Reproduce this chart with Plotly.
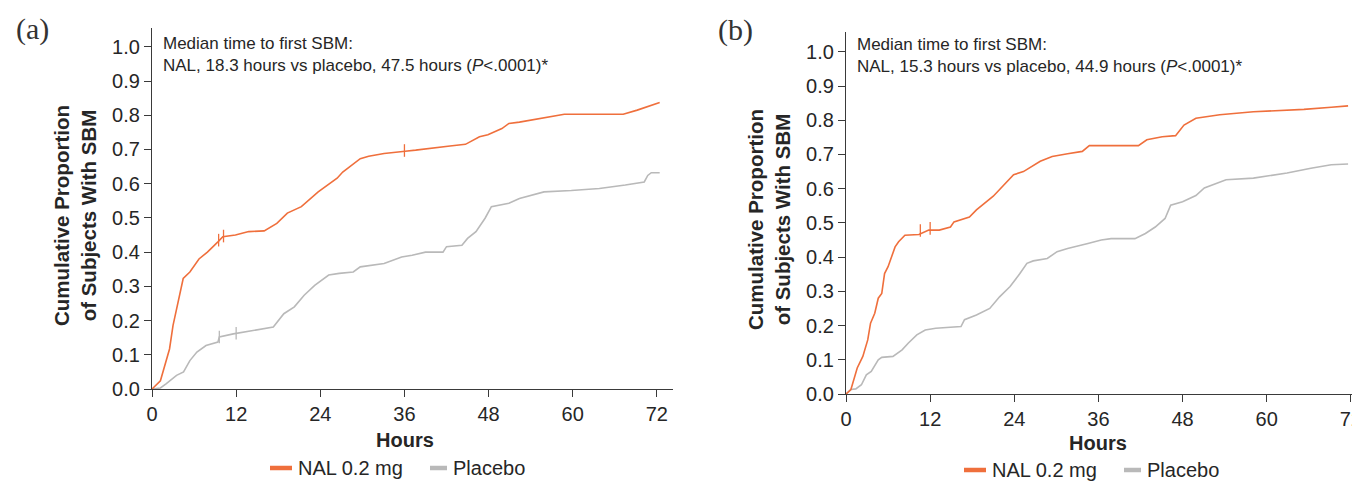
import plotly.graph_objects as go

# ---------------- data ----------------
hours_ticks = [0, 12, 24, 36, 48, 60, 72]
prop_ticks = [0.0, 0.1, 0.2, 0.3, 0.4, 0.5, 0.6, 0.7, 0.8, 0.9, 1.0]

# Panel (a)
a_nal_t = [0, 1.2, 2.5, 3.0, 4.45, 5.4, 6.7, 7.9, 9.4, 10.1, 11.9, 13.8, 16.0, 17.8, 19.3,
           21.3, 23.7, 26.4, 27.2, 29.7, 30.9, 33.1, 36.1, 37.6, 42.5, 44.7, 46.7, 47.9,
           49.9, 50.9, 52.4, 56.4, 58.8, 67.2, 69.2, 72.4]
a_nal_p = [0, 0.024, 0.117, 0.186, 0.323, 0.342, 0.38, 0.40, 0.43, 0.445, 0.45, 0.46, 0.462,
           0.484, 0.514, 0.533, 0.576, 0.616, 0.634, 0.673, 0.68, 0.688, 0.695, 0.698, 0.71,
           0.715, 0.737, 0.743, 0.761, 0.776, 0.78, 0.795, 0.803, 0.803, 0.815, 0.837]
a_pbo_t = [0, 1.2, 2.0, 3.5, 4.5, 5.4, 6.4, 7.7, 9.4, 9.6, 11.6, 14.3, 17.3, 18.8, 20.3,
           21.7, 23.2, 25.2, 26.7, 28.7, 29.7, 33.1, 35.6, 37.1, 39.0, 41.5, 42.0, 44.2,
           45.0, 46.2, 47.5, 48.4, 50.9, 52.4, 54.4, 55.9, 59.8, 63.8, 67.5, 70.2, 70.7,
           71.2, 72.4]
a_pbo_p = [0, 0.003, 0.015, 0.04, 0.05, 0.083, 0.108, 0.127, 0.137, 0.152, 0.161, 0.171,
           0.181, 0.22, 0.24, 0.274, 0.303, 0.333, 0.338, 0.342, 0.357, 0.367, 0.386, 0.391,
           0.40, 0.40, 0.416, 0.42, 0.44, 0.46, 0.499, 0.533, 0.543, 0.557, 0.567, 0.576,
           0.58, 0.586, 0.596, 0.605, 0.624, 0.632, 0.632]
a_nal_cens_t = [9.5, 10.2, 36.0]
a_nal_cens_p = [0.435, 0.447, 0.697]
a_pbo_cens_t = [9.6, 12.0]
a_pbo_cens_p = [0.152, 0.163]

# Panel (b)
b_nal_t = [0, 0.7, 1.6, 2.4, 3.1, 3.5, 4.1, 4.6, 5.1, 5.5, 6.0, 6.5, 7.0, 7.5, 8.4, 10.4,
           11.8, 13.3, 14.9, 15.4, 17.6, 18.6, 21.0, 23.9, 25.3, 27.7, 29.4, 31.6, 33.7,
           34.7, 41.7, 42.9, 45.1, 47.0, 48.2, 49.9, 53.3, 58.1, 65.3, 69.2, 71.1, 71.6]
b_nal_p = [0, 0.013, 0.076, 0.11, 0.158, 0.207, 0.236, 0.28, 0.294, 0.352, 0.372, 0.40,
           0.43, 0.445, 0.464, 0.466, 0.479, 0.479, 0.488, 0.503, 0.517, 0.538, 0.578,
           0.641, 0.65, 0.68, 0.694, 0.702, 0.709, 0.726, 0.726, 0.743, 0.752, 0.755,
           0.786, 0.806, 0.816, 0.825, 0.832, 0.838, 0.842, 0.842]
b_pbo_t = [0, 0.7, 1.4, 2.2, 2.9, 3.6, 4.6, 5.1, 6.7, 8.0, 8.9, 10.1, 11.3, 12.8, 16.4,
           16.9, 18.6, 20.5, 21.9, 23.4, 24.8, 25.8, 26.7, 28.7, 30.1, 31.6, 34.5, 36.4,
           37.8, 41.2, 42.7, 44.1, 45.5, 46.3, 48.0, 49.9, 51.1, 54.2, 58.1, 62.9, 66.3,
           69.2, 71.6]
b_pbo_p = [0, 0.013, 0.015, 0.027, 0.056, 0.066, 0.10, 0.107, 0.11, 0.129, 0.149, 0.173,
           0.187, 0.192, 0.197, 0.217, 0.231, 0.25, 0.284, 0.314, 0.352, 0.382, 0.389,
           0.396, 0.416, 0.425, 0.44, 0.45, 0.454, 0.454, 0.469, 0.488, 0.513, 0.552,
           0.562, 0.58, 0.602, 0.626, 0.631, 0.646, 0.66, 0.67, 0.672]
b_nal_cens_t = [10.6, 12.0]
b_nal_cens_p = [0.478, 0.484]

series_names = ["NAL 0.2 mg", "Placebo"]
panel_labels = ["(a)", "(b)"]
median_texts = [
    "Median time to first SBM:<br>NAL, 18.3 hours vs placebo, 47.5 hours (<i>P</i>&lt;.0001)*",
    "Median time to first SBM:<br>NAL, 15.3 hours vs placebo, 44.9 hours (<i>P</i>&lt;.0001)*",
]
y_title = "<b>Cumulative Proportion<br>of Subjects With SBM</b>"
x_title = "<b>Hours</b>"

# ---------------- style ----------------
W, H = 1360, 482
OFF = 8  # default page (body) margin in the browser
ORANGE = "#ef6f3c"
GREY = "#b9b9b9"
AXC = "#3a3a3a"
TXT = "#262626"
FONT = "Liberation Sans, Arial, sans-serif"


def px(x):
    """screen x pixel -> paper fraction"""
    return (x - OFF) / W


def py(y):
    """screen y pixel -> paper fraction"""
    return 1 - (y - OFF) / H


fig = go.Figure()

panels = [
    dict(xa="x", ya="y", nal=(a_nal_t, a_nal_p), pbo=(a_pbo_t, a_pbo_p),
         ncens=(a_nal_cens_t, a_nal_cens_p), pcens=(a_pbo_cens_t, a_pbo_cens_p)),
    dict(xa="x2", ya="y2", nal=(b_nal_t, b_nal_p), pbo=(b_pbo_t, b_pbo_p),
         ncens=(b_nal_cens_t, b_nal_cens_p), pcens=([], [])),
]

for p in panels:
    fig.add_trace(go.Scatter(x=p["pbo"][0], y=p["pbo"][1], mode="lines",
                             line=dict(color=GREY, width=1.6), xaxis=p["xa"], yaxis=p["ya"],
                             showlegend=False, name=series_names[1], cliponaxis=False))
    fig.add_trace(go.Scatter(x=p["nal"][0], y=p["nal"][1], mode="lines",
                             line=dict(color=ORANGE, width=1.6), xaxis=p["xa"], yaxis=p["ya"],
                             showlegend=False, name=series_names[0], cliponaxis=False))
    if p["pcens"][0]:
        fig.add_trace(go.Scatter(x=p["pcens"][0], y=p["pcens"][1], mode="markers",
                                 marker=dict(symbol="line-ns", size=9,
                                             line=dict(color=GREY, width=1.3)),
                                 xaxis=p["xa"], yaxis=p["ya"], showlegend=False))
    fig.add_trace(go.Scatter(x=p["ncens"][0], y=p["ncens"][1], mode="markers",
                             marker=dict(symbol="line-ns", size=9,
                                         line=dict(color=ORANGE, width=1.3)),
                             xaxis=p["xa"], yaxis=p["ya"], showlegend=False))

common_x = dict(tickvals=hours_ticks, ticks="outside", ticklen=7, tickwidth=1.2,
                tickcolor=AXC, showline=True, linecolor=AXC, linewidth=1.2, automargin=False,
                showgrid=False, zeroline=False, tickfont=dict(size=20, color=TXT, family=FONT))
common_y = dict(tickvals=prop_ticks, tickformat=".1f", ticks="outside", ticklen=7,
                tickwidth=1.2, tickcolor=AXC, showline=True, linecolor=AXC, linewidth=1.2,
                automargin=False,
                showgrid=False, zeroline=False, tickfont=dict(size=20, color=TXT, family=FONT))

fig.update_layout(
    width=W, height=H, margin=dict(l=0, r=0, t=0, b=0, autoexpand=False),
    paper_bgcolor="white", plot_bgcolor="white",
    font=dict(family=FONT, color=TXT),
    xaxis=dict(domain=[px(152), px(673)], range=[0, 74.3], anchor="y", **common_x),
    yaxis=dict(domain=[py(389), py(28)], range=[0, 1.055], anchor="x", **common_y),
    xaxis2=dict(domain=[px(846), px(1360)], range=[0, 73.3], anchor="y2", **common_x),
    yaxis2=dict(domain=[py(394), py(32)], range=[0, 1.058], anchor="x2", **common_y),
)

ann = []
shapes = []
offsets = [dict(dx=0, ax=152, txt_y=54, lab=(32, 29), yt=(75, 216), xt=(405, 440), leg=468),
           dict(dx=694, ax=846, txt_y=56, lab=(735, 30), yt=(769, 220), xt=(1098, 443), leg=470)]
for i, o in enumerate(offsets):
    ann.append(dict(text=panel_labels[i], x=px(o["lab"][0]), y=py(o["lab"][1]), xref="paper",
                    yref="paper", showarrow=False, xanchor="center", yanchor="middle",
                    font=dict(family="Liberation Serif, Times New Roman, serif", size=30,
                              color="#333333")))
    ann.append(dict(text=median_texts[i], x=px(o["ax"] + 9), y=py(o["txt_y"]), xref="paper",
                    yref="paper", showarrow=False, xanchor="left", yanchor="middle", align="left",
                    font=dict(size=17, color=TXT, family=FONT)))
    ann.append(dict(text=y_title, x=px(o["yt"][0]), y=py(o["yt"][1]), xref="paper", yref="paper",
                    showarrow=False, textangle=-90, xanchor="center", yanchor="middle",
                    font=dict(size=20.5, color=TXT, family=FONT)))
    ann.append(dict(text=x_title, x=px(o["xt"][0]), y=py(o["xt"][1]), xref="paper", yref="paper",
                    showarrow=False, xanchor="center", yanchor="middle",
                    font=dict(size=20, color=TXT, family=FONT)))
    # manual legend
    dx = o["dx"]
    ly = o["leg"]
    shapes.append(dict(type="line", xref="paper", yref="paper", x0=px(270 + dx), x1=px(292 + dx),
                       y0=py(ly), y1=py(ly), line=dict(color=ORANGE, width=4.5)))
    ann.append(dict(text=series_names[0], x=px(296 + dx), y=py(ly), xref="paper", yref="paper",
                    showarrow=False, xanchor="left", yanchor="middle",
                    font=dict(size=20, color=TXT, family=FONT)))
    shapes.append(dict(type="line", xref="paper", yref="paper", x0=px(430 + dx), x1=px(447 + dx),
                       y0=py(ly), y1=py(ly), line=dict(color=GREY, width=4.5)))
    ann.append(dict(text=series_names[1], x=px(451 + dx), y=py(ly), xref="paper", yref="paper",
                    showarrow=False, xanchor="left", yanchor="middle",
                    font=dict(size=20, color=TXT, family=FONT)))

fig.update_layout(annotations=ann, shapes=shapes)
fig.write_html("out.html")
